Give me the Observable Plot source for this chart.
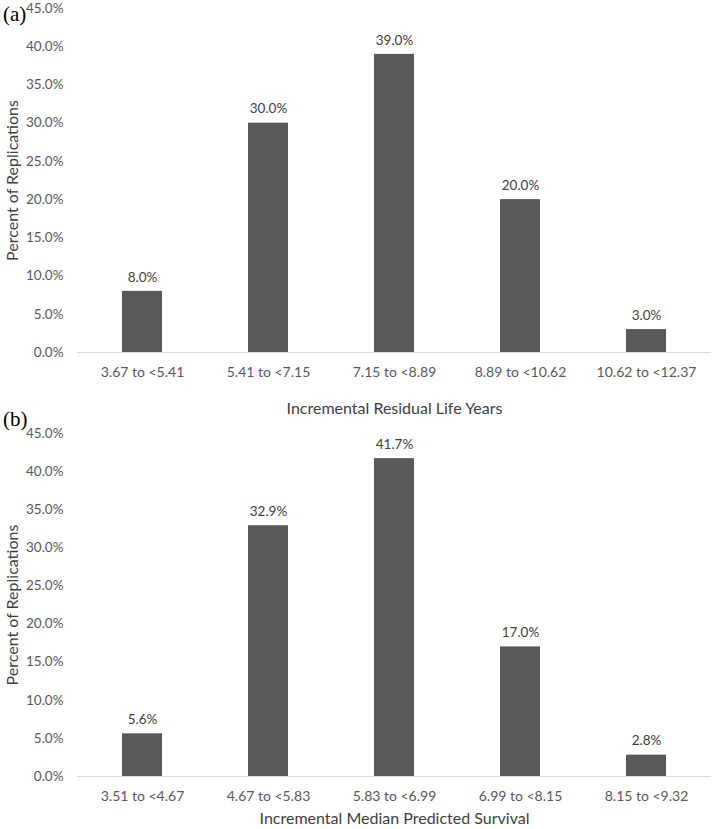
<!DOCTYPE html>
<html>
<head>
<meta charset="utf-8">
<script src="https://cdn.jsdelivr.net/npm/d3@7"></script>
<script src="https://cdn.jsdelivr.net/npm/@observablehq/plot@0.6"></script>
<style>
  html, body { margin: 0; padding: 0; background: #fff; }
  #wrap { position: relative; width: 714px; height: 829px; }
  .panel { position: absolute; left: 0; }
  .panel svg { overflow: visible; }
  .tag { position: absolute; left: 3px; font-family: "Liberation Serif", "DejaVu Serif", serif; font-size: 21px; color: #000; line-height: 1; z-index: 2; }
</style>
</head>
<body>
<div id="wrap">
  <div class="panel" id="pb" style="top:414px"></div>
  <div class="panel" id="pa" style="top:0"></div>
  <div class="tag" style="top:4px">(a)</div>
  <div class="tag" style="top:409px">(b)</div>
</div>
<script>
const catsA = ["3.67 to <5.41", "5.41 to <7.15", "7.15 to <8.89", "8.89 to <10.62", "10.62 to <12.37"];
const valsA = [8.0, 30.0, 39.0, 20.0, 3.0];
const catsB = ["3.51 to <4.67", "4.67 to <5.83", "5.83 to <6.99", "6.99 to <8.15", "8.15 to <9.32"];
const valsB = [5.6, 32.9, 41.7, 17.0, 2.8];
const yTicks = [0, 5, 10, 15, 20, 25, 30, 35, 40, 45];
const yLabel = "Percent of Replications";
const xLabelA = "Incremental Residual Life Years";
const xLabelB = "Incremental Median Predicted Survival";

const FONT = "Lato, 'Open Sans', sans-serif";

function panel(cats, vals, xLabel, height, mTop, mBottom, xTitleDy) {
  const data = cats.map((c, i) => ({cat: c, v: vals[i]}));
  return Plot.plot({
    width: 714,
    height,
    marginTop: mTop,
    marginBottom: mBottom,
    marginLeft: 77,
    marginRight: 3,
    style: {fontFamily: FONT, fontSize: "13px", background: "transparent", color: "#595959", overflow: "visible"},
    x: {domain: cats, paddingInner: 0.68, paddingOuter: 0.34, label: null},
    y: {domain: [0, 45], label: null},
    marks: [
      Plot.ruleY([0], {stroke: "#d9d9d9", strokeWidth: 1}),
      Plot.barY(data, {x: "cat", y: "v", fill: "#595959"}),
      Plot.text(data, {x: "cat", y: "v", text: d => d.v.toFixed(1) + "%", dy: -14, fill: "#404040", fontSize: 13.5}),
      Plot.axisY({ticks: yTicks, tickFormat: d => d.toFixed(1) + "%", tickSize: 0, tickPadding: 14, fontSize: 13.5, fill: "#595959", label: null}),
      Plot.axisX({tickSize: 0, tickPadding: 15, fontSize: 14, fill: "#595959", label: null}),
      Plot.text([xLabel], {frameAnchor: "bottom", dy: xTitleDy, fill: "#404040", fontSize: 16, lineAnchor: "middle", textAnchor: "middle"}),
      Plot.text([yLabel], {frameAnchor: "left", dx: -65, rotate: -90, fill: "#404040", fontSize: 16, lineAnchor: "middle", textAnchor: "middle"})
    ]
  });
}

document.getElementById("pa").appendChild(panel(catsA, valsA, xLabelA, 414, 8, 62, 56));
document.getElementById("pb").appendChild(panel(catsB, valsB, xLabelB, 415, 19, 53, 42));
</script>
</body>
</html>
